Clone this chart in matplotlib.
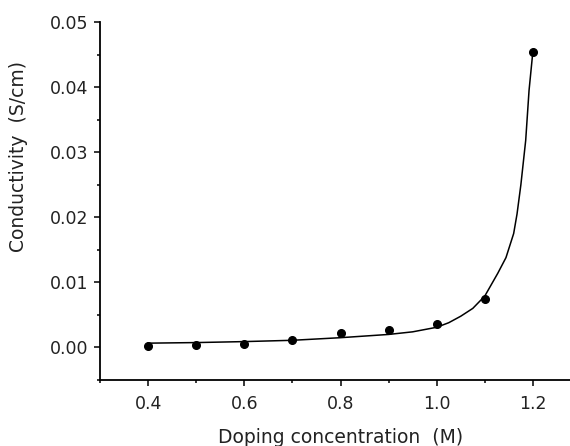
import matplotlib
matplotlib.use("Agg")
import matplotlib.pyplot as plt
from matplotlib.ticker import MultipleLocator, FormatStrFormatter

# measured data points
conc = [0.4, 0.5, 0.6, 0.7, 0.8, 0.9, 1.0, 1.1, 1.2]
sigma = [0.00015, 0.00035, 0.0006, 0.0011, 0.0022, 0.0027, 0.0036, 0.0074, 0.0454]

# fitted curve
fit_x = [0.40, 0.50, 0.60, 0.70, 0.80, 0.90, 0.95, 1.00, 1.025, 1.05, 1.075,
         1.10, 1.127, 1.144, 1.16, 1.167, 1.175, 1.185, 1.192, 1.20]
fit_y = [0.00066, 0.00075, 0.0009, 0.0011, 0.0015, 0.0020, 0.0024, 0.0031,
         0.0038, 0.0048, 0.0060, 0.0079, 0.0114, 0.0138, 0.0175, 0.0205,
         0.0250, 0.0318, 0.0395, 0.0455]

plt.rcParams["font.family"] = "DejaVu Sans"

fig = plt.figure(figsize=(5.7, 4.46), dpi=100)
ax = fig.add_axes([100 / 570, 66 / 446, 481 / 570, 358 / 446])

ax.plot(fit_x, fit_y, color="black", linewidth=1.1)
ax.plot(conc, sigma, linestyle="none", marker="o", markersize=5.5, color="black")

ax.set_xlim(0.3, 1.3)
ax.set_ylim(-0.005, 0.05)

for side in ("top", "right"):
    ax.spines[side].set_visible(False)
for side in ("left", "bottom"):
    ax.spines[side].set_linewidth(1.3)

ax.xaxis.set_major_locator(MultipleLocator(0.2))
ax.xaxis.set_minor_locator(MultipleLocator(0.1))
ax.yaxis.set_major_locator(MultipleLocator(0.01))
ax.yaxis.set_minor_locator(MultipleLocator(0.005))
ax.xaxis.set_major_formatter(FormatStrFormatter("%.1f"))
ax.yaxis.set_major_formatter(FormatStrFormatter("%.2f"))

ax.tick_params(which="major", direction="out", length=4.3, width=1.1,
               labelsize=12.5, labelcolor="#222222")
ax.tick_params(which="minor", direction="out", length=2.5, width=1.1)
ax.tick_params(axis="x", which="major", pad=6.5)
ax.tick_params(axis="y", which="major", pad=4.3)

ax.set_xlabel("Doping concentration  (M)", fontsize=13.5, labelpad=11,
              color="#222222")
ax.set_ylabel("Conductivity  (S/cm)", fontsize=13.5, color="#222222")
ax.yaxis.set_label_coords(-0.150, 0.623)

fig.savefig("out.png", dpi=100)
